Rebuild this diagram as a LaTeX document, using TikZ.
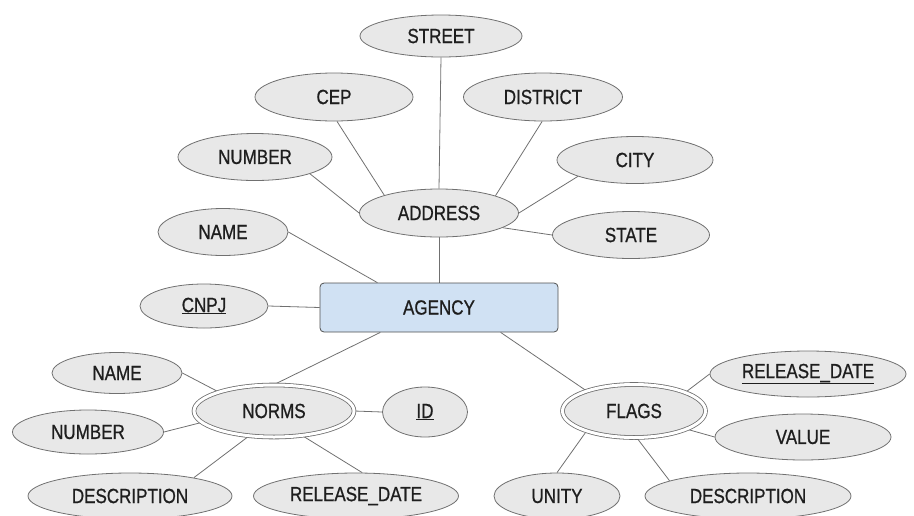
\documentclass[tikz,border=0pt]{standalone}
\usepackage{fontspec}
\setmainfont[FakeStretch=0.83,FakeBold=0.8]{Liberation Sans}
\usetikzlibrary{shapes.geometric,backgrounds}
\definecolor{attrfill}{HTML}{E8E8E8}
\definecolor{attrline}{HTML}{707070}
\definecolor{entfill}{HTML}{D0E1F3}
\definecolor{entline}{HTML}{505050}
\definecolor{txt}{HTML}{1E1E1E}
\begin{document}
\begin{tikzpicture}[x=1pt,y=-1pt,
  lbl/.style={text=txt, font=\fontsize{20.5}{22}\selectfont},
  attr/.style={lbl, ellipse, draw=attrline, fill=attrfill, line width=0.8pt,
    inner sep=0pt, minimum height=46pt},
  weak/.style={attr, double=white, double distance=3pt},
  entity/.style={lbl, rectangle, rounded corners=4pt, draw=entline, fill=entfill,
    line width=0.8pt, inner sep=0pt, minimum width=238pt, minimum height=49pt},
  link/.style={draw=attrline, line width=0.8pt}]
\useasboundingbox (0,0) rectangle (914,515);

% central entity
\node[entity] (agency) at (439,307.5) {AGENCY};

% composite address attribute
\node[attr, minimum width=159pt, minimum height=48pt] (address) at (439,213) {ADDRESS};
\node[attr, minimum width=162pt, minimum height=42pt] (street) at (441,36) {STREET};
\node[attr, minimum width=158pt, minimum height=48pt] (cep) at (334,97) {CEP};
\node[attr, minimum width=159pt, minimum height=48pt] (district) at (543,97) {DISTRICT};
\node[attr, minimum width=154pt, minimum height=47pt] (anumber) at (255,157) {NUMBER};
\node[attr, minimum width=156pt, minimum height=47pt] (city) at (635,160) {CITY};
\node[attr, minimum width=157pt, minimum height=47pt] (state) at (631,235) {STATE};

% simple agency attributes
\node[attr, minimum width=130pt, minimum height=47pt] (aname) at (223,232) {NAME};
\node[attr, minimum width=128pt, minimum height=44pt] (cnpj) at (204,306) {\underline{CNPJ}};

% multivalued norms
\node[weak, minimum width=160pt, minimum height=52pt] (norms) at (274,411) {NORMS};
\node[attr, minimum width=85pt, minimum height=50pt] (nid) at (425,412) {\underline{ID}};
\node[attr, minimum width=130pt, minimum height=41pt] (nname) at (117,373) {NAME};
\node[attr, minimum width=151pt, minimum height=44pt] (nnumber) at (88,432) {NUMBER};
\node[attr, minimum width=204pt] (ndesc) at (130,496) {DESCRIPTION};
\node[attr, minimum width=205pt] (nrel) at (356,496) {RELEASE\_DATE};

% multivalued flags
\node[weak, minimum width=143pt, minimum height=53pt] (flags) at (634,411) {FLAGS};
\node[attr, minimum width=196pt, minimum height=46pt] (frel) at (808,374) {\underline{RELEASE\_DATE}};
\node[attr, minimum width=176pt, minimum height=46pt] (fvalue) at (803,437) {VALUE};
\node[attr, minimum width=126pt] (funity) at (557,496) {UNITY};
\node[attr, minimum width=206pt] (fdesc) at (748,496) {DESCRIPTION};

% connectors, kept beneath the shapes
\begin{pgfonlayer}{background}
\draw[link] (street.south) -- (address.north);
\draw[link] (cep.-83) -- (address.162.5);
\draw[link] (district.-92) -- (address.17);
\draw[link] (anumber.-17.5) -- (address.west);
\draw[link] (city.196.6) -- (address.east);
\draw[link] (state.west) -- (address.-13);
\draw[link] (address.south) -- (agency.north);
\draw[link] (aname.east) -- (agency.158.3);
\draw[link] (cnpj.east) -- (agency.west);
\draw[link] (agency.203.6) -- (norms.north);
\draw[link] (agency.-22.7) -- (flags.157.6);
\draw[link] (norms.east) -- (nid.west);
\draw[link] (nname.east) -- (norms.161);
\draw[link] (nnumber.east) -- (norms.189);
\draw[link] (ndesc.16) -- (norms.225);
\draw[link] (nrel.75) -- (norms.-41);
\draw[link] (flags.20.6) -- (frel.west);
\draw[link] (flags.-19.6) -- (fvalue.west);
\draw[link] (flags.203) -- (funity.north);
\draw[link] (flags.-84.5) -- (fdesc.169);
\end{pgfonlayer}
\end{tikzpicture}
\end{document}
